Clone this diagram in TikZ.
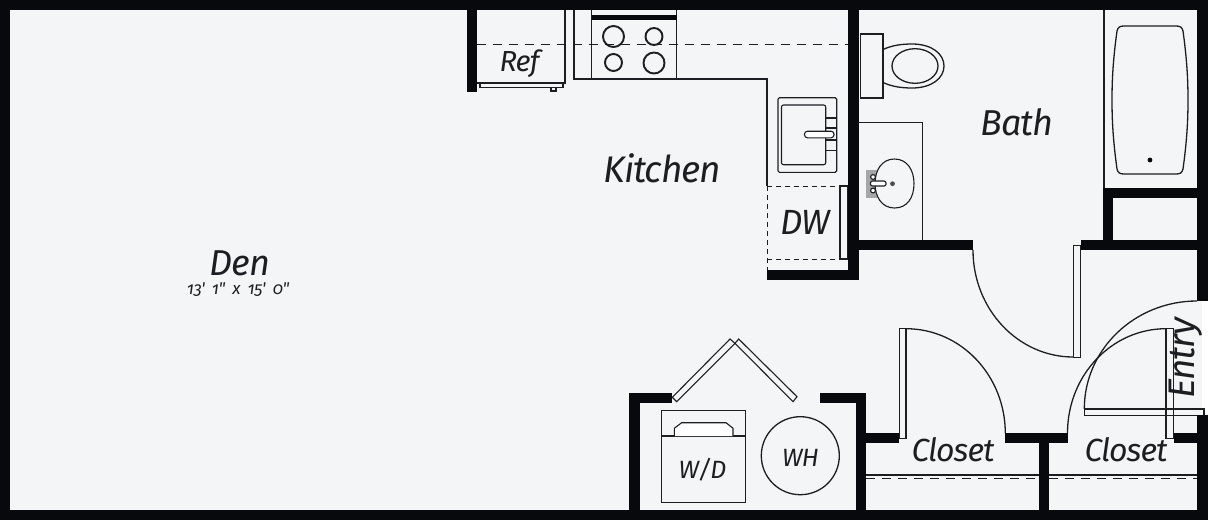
\documentclass[tikz,border=0pt]{standalone}
\usepackage{fontspec}
\setmainfont{Fira Sans}[Numbers=OldStyle,LetterSpace=-3]
\newfontfamily\sizefont{Fira Sans}[Numbers=OldStyle,LetterSpace=-2]
\definecolor{bgc}{HTML}{F4F5F7}
\definecolor{wallc}{HTML}{07090C}
\definecolor{linec}{HTML}{1C1E22}
\tikzset{
  wall/.style={fill=wallc,draw=none},
  thin line/.style={draw=linec,line width=1.1pt},
  fixture/.style={draw=linec,line width=1.3pt},
  doorleaf/.style={draw=linec,line width=1.1pt,fill=bgc},
  dash line/.style={draw=linec,line width=1.1pt,dash pattern=on 9pt off 7pt},
  short dash/.style={draw=linec,line width=0.9pt,dash pattern=on 5pt off 4pt},
  burner/.style={draw=linec,line width=1.9pt},
  lab/.style={text=linec,inner sep=0pt,font=\itshape\fontsize{#1}{#1}\selectfont},
}
\begin{document}
\begin{tikzpicture}[x=1pt,y=-1pt]
\useasboundingbox (0,0) rectangle (1208,520);
\fill[white] (0,0) rectangle (1208,520);
\fill[bgc] (0,0) rectangle (1202,520);
\fill[bgc] (1202,0) rectangle (1208,301);
\fill[bgc] (1202,414) rectangle (1208,520);

% kitchen
\draw[thin line] (574,10) -- (574,79) -- (767,79) -- (767,186);
\draw[short dash] (767,186) -- (767,270);
\draw[short dash] (767,186) -- (848,186);
\draw[short dash] (767,259) -- (840,259);
\draw[doorleaf] (840,186) rectangle (848,259);
\draw[dash line] (477,44.5) -- (848,44.5);
\draw[thin line] (477,83) -- (565,83) -- (565,10);
\draw[thin line] (480,83) rectangle (563,87.5);
\draw[thin line] (551,87.5) rectangle (556,91);
\draw[thin line] (591.5,10) -- (591.5,79) (676.5,10) -- (676.5,79);
\fill[wallc] (591.5,15) rectangle (676.5,20);
\draw[burner] (613.5,36.5) circle[radius=10.5];
\draw[burner] (654,36.5) circle[radius=8.5];
\draw[burner] (613.5,62.5) circle[radius=8.5];
\draw[burner] (654,63) circle[radius=10.5];
\draw[thin line,rounded corners=1.5pt] (778,97.7) rectangle (836.7,172.3);
\draw[thin line,rounded corners=2pt] (781.5,105) rectangle (825.7,164.7);
\draw[thin line] (825.7,118) rectangle (836.7,150.7);
\draw[thin line] (825.7,128) -- (836.7,128) (825.7,140) -- (836.7,140);
\draw[thin line,fill=white,rounded corners=3pt] (804.5,131.2) rectangle (834,137.8);

% bath fixtures
\draw[thin line] (858,122.5) -- (922.5,122.5) -- (922.5,240);
\fill[black!35] (866,170) rectangle (877,198);
\draw[thin line,fill=bgc] (894.5,159) .. controls (907,159) and (914,170) .. (914,183.5) .. controls (914,198) and (907,208) .. (894.5,208) .. controls (882,208) and (875,197) .. (875,183.5) .. controls (875,170) and (882,159) .. (894.5,159) -- cycle;
\draw[thin line,fill=white] (873,177) circle[radius=2.4];
\draw[thin line,fill=white] (873,190.5) circle[radius=2.4];
\draw[thin line,fill=white,rounded corners=2pt] (870.5,181) rectangle (886,186);
\fill[black!70] (892.5,183.7) circle[radius=2.4];
\draw[fixture] (882,50) .. controls (892,45) and (903,44) .. (912,44) .. controls (932,44) and (944,54) .. (944,66) .. controls (944,78) and (932,88) .. (912,88) .. controls (903,88) and (892,87) .. (882,82);
\draw[fixture,fill=bgc] (860.5,34) rectangle (883,98);
\draw[fixture] (915,66) ellipse[x radius=23,y radius=17.3];
\draw[thin line] (1104,10) -- (1104,188);
\draw[fixture] (1124,26) -- (1176,26) .. controls (1180,26) and (1182,27) .. (1183,31) .. controls (1187,60) and (1188,80) .. (1188,100) .. controls (1188,120) and (1187,140) .. (1183,169) .. controls (1182,173) and (1180,174) .. (1176,174) -- (1124,174) .. controls (1120,174) and (1118,173) .. (1117,169) .. controls (1113,140) and (1112,120) .. (1112,100) .. controls (1112,80) and (1113,60) .. (1117,31) .. controls (1118,27) and (1120,26) .. (1124,26) -- cycle;
\fill[wallc] (1150,160) circle[radius=2.4];

% closet shelves
\draw[thin line] (866,475) -- (1039,475) (1049,475) -- (1197,475);
\draw[dash line] (866,478.7) -- (1039,478.7) (1049,478.7) -- (1197,478.7);

% laundry
\draw[doorleaf] (672.3,397.3) -- (730,339) -- (735,343.3) -- (676.7,401.7) -- cycle;
\draw[doorleaf] (738.7,339) -- (797,396.7) -- (793,401.7) -- (735,343.3) -- cycle;
\draw[thin line] (661.7,410.3) rectangle (745.7,502.3);
\draw[thin line] (661.7,436) -- (745.7,436);
\draw[thin line,fill=white] (674.3,436) -- (674.3,428.3) -- (681.7,422.7) -- (726,422.7) -- (733,428.3) -- (733,436);
\draw[fixture] (800.3,455.7) circle[radius=39];

% door swings
\draw[fixture] (973,250) arc[start angle=180,end angle=90,x radius=100.3,y radius=107];
\draw[fixture] (906,328.7) arc[start angle=90,end angle=0,x radius=99.3,y radius=-104.6];
\draw[fixture] (1067.5,433) arc[start angle=180,end angle=90,x radius=98.5,y radius=-104.3];
\draw[fixture] (1084.3,409) arc[start angle=180,end angle=90,x radius=112.7,y radius=-108];

% door leaves
\draw[doorleaf] (1073.3,245.3) rectangle (1080.3,357.3);
\draw[doorleaf] (899.3,328.7) rectangle (906,438.3);
\draw[thin line] (1166,328.7) rectangle (1173.3,438.3);
\draw[thin line] (1084.3,409) -- (1204,409) -- (1204,415.7) -- (1084.3,415.7) -- cycle;

% walls
\fill[wall] (0,0) rectangle (1208,10);
\fill[wall] (0,510) rectangle (1208,520);
\fill[wall] (0,0) rectangle (10,520);
\fill[wall] (1197,0) rectangle (1208,301);
\fill[wall] (1197,415) rectangle (1208,520);
\fill[wall] (467,0) rectangle (477,92);
\fill[wall] (848,0) rectangle (859,280);
\fill[wall] (767,270) rectangle (859,280);
\fill[wall] (859,240) rectangle (973,250);
\fill[wall] (1081,240) rectangle (1197,250);
\fill[wall] (1103,188) rectangle (1113,240);
\fill[wall] (1103,188) rectangle (1197,198);
\fill[wall] (629,393) rectangle (639.5,510);
\fill[wall] (629,393) rectangle (672,403);
\fill[wall] (856,393) rectangle (866,510);
\fill[wall] (820,393) rectangle (866,403);
\fill[wall] (866,433) rectangle (899,443);
\fill[wall] (1005,433) rectangle (1067.5,443);
\fill[wall] (1039,433) rectangle (1049,510);
\fill[wall] (1173.5,433) rectangle (1197,443);

% labels
\node[lab=36] (den) at (240,263) {Den};
\node[lab=17] (size) at (238,290) {\sizefont\itshape 13'\hspace{3pt} 1"\hspace{3pt} x\hspace{3pt} 15'\hspace{3pt} 0"};
\node[lab=37] (kitchen) at (662.5,168.5) {Kitchen};
\node[lab=36] (bath) at (1017,122.5) {Bath};
\node[lab=29] (ref) at (519.5,63.5) {Ref};
\node[lab=35] (dw) at (805,222) {DW};
\node[lab=25] (wd) at (702.5,469.5) {W/D};
\node[lab=25] (wh) at (800.5,458) {WH};
\node[lab=32] (closeta) at (953,450) {Closet};
\node[lab=32] (closetb) at (1126,450) {Closet};
\node[lab=37,rotate=90] (entry) at (1186,358) {Entry};
\end{tikzpicture}
\end{document}
